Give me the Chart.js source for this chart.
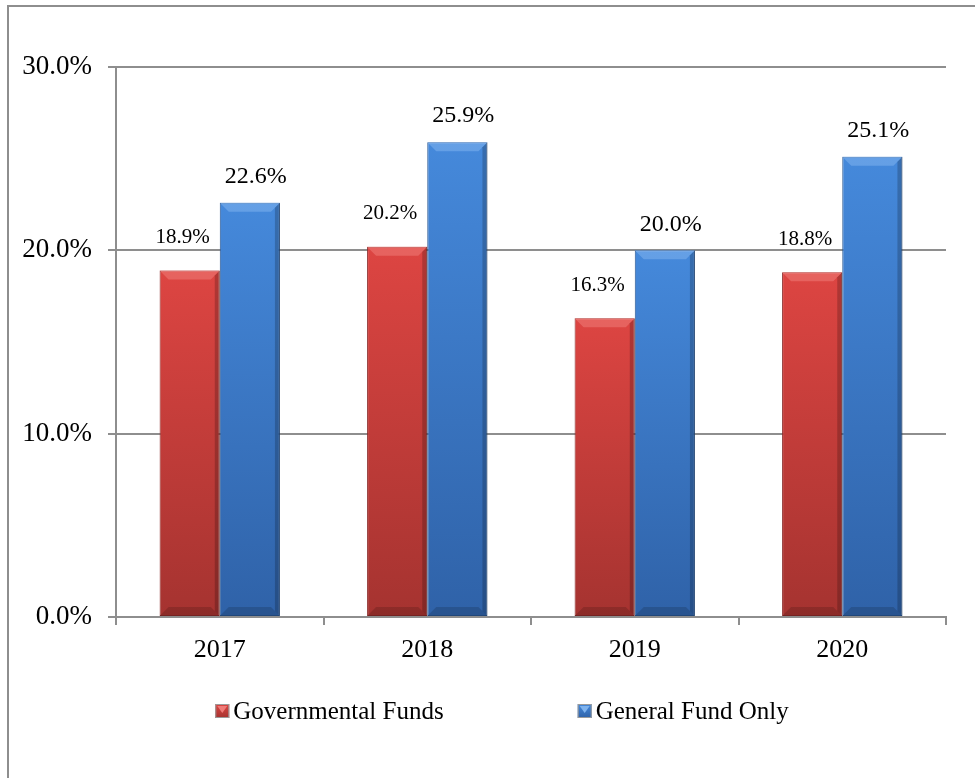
<!DOCTYPE html>
<html>
<head>
<meta charset="utf-8">
<script src="https://cdn.jsdelivr.net/npm/chart.js@4.4.1/dist/chart.umd.min.js"></script>
<style>
  html, body { margin: 0; padding: 0; background: #fff; }
  #wrap { position: relative; width: 975px; height: 778px; overflow: hidden; }
  #frame {
    position: absolute; left: 7px; top: 5px; width: 1000px; height: 800px;
    border-top: 2px solid #8e8e8e; border-left: 2px solid #8e8e8e;
  }
  canvas { position: absolute; left: 0; top: 0; }
</style>
</head>
<body>
<div id="wrap">
  <div id="frame"></div>
  <canvas id="fundChart" width="975" height="778"></canvas>
</div>
<script>
const years = ["2017", "2018", "2019", "2020"];
const governmentalFunds = [18.9, 20.2, 16.3, 18.8];
const generalFundOnly = [22.6, 25.9, 20.0, 25.1];
const seriesNames = ["Governmental Funds", "General Fund Only"];

const SERIF = "'Liberation Serif', 'Times New Roman', serif";
const GRID = "#8e8e8e";

// colours per series: top of bar, bottom of bar, border, bevel light
const palette = [
  { top: "#dd4542", bottom: "#a53330", border: "#8a2a28", light: "#ef7b78" },
  { top: "#4589db", bottom: "#2f62a8", border: "#27548f", light: "#7fb3ee" },
];

function barGradient(context) {
  const chart = context.chart;
  const pal = palette[context.datasetIndex];
  if (!chart.chartArea || context.parsed == null) return pal.top;
  const yTop = chart.scales.y.getPixelForValue(context.parsed.y);
  const yBot = chart.scales.y.getPixelForValue(0);
  if (!isFinite(yTop) || yBot - yTop < 1) return pal.top;
  const g = chart.ctx.createLinearGradient(0, yTop, 0, yBot);
  g.addColorStop(0, pal.top);
  g.addColorStop(1, pal.bottom);
  return g;
}

// soft bevel on the bars
const bevelPlugin = {
  id: "bevel",
  afterDatasetsDraw(chart) {
    const c = chart.ctx;
    chart.data.datasets.forEach(function (ds, di) {
      const pal = palette[di];
      chart.getDatasetMeta(di).data.forEach(function (bar) {
        const p = bar.getProps(["x", "y", "base", "width"], true);
        const l = p.x - p.width / 2, r = p.x + p.width / 2;
        const t = p.y, b = p.base, d = 9;
        c.save();
        // top facet
        c.globalAlpha = 0.55;
        c.fillStyle = pal.light;
        c.beginPath();
        c.moveTo(l, t); c.lineTo(r, t); c.lineTo(r - d, t + d); c.lineTo(l + d, t + d);
        c.closePath(); c.fill();
        // right facet
        c.globalAlpha = 0.2;
        c.fillStyle = "#000";
        c.beginPath();
        c.moveTo(r, t); c.lineTo(r, b); c.lineTo(r - 5, b - 5); c.lineTo(r - 5, t + 5);
        c.closePath(); c.fill();
        // bottom facet
        c.globalAlpha = 0.15;
        c.beginPath();
        c.moveTo(l, b); c.lineTo(r, b); c.lineTo(r - 9, b - 9); c.lineTo(l + 9, b - 9);
        c.closePath(); c.fill();
        c.restore();
      });
    });
  },
};

// value labels above the bars
const labelPlugin = {
  id: "valueLabels",
  afterDatasetsDraw(chart) {
    const c = chart.ctx;
    c.save();
    c.fillStyle = "#000";
    c.textAlign = "center";
    c.textBaseline = "middle";
    chart.data.datasets.forEach(function (ds, di) {
      const size = di === 0 ? 21 : 24;
      const lift = di === 0 ? 33 : 26;
      const shift = di === 0 ? -7 : 6;
      c.font = size + "px " + SERIF;
      chart.getDatasetMeta(di).data.forEach(function (bar, i) {
        c.fillText(ds.data[i].toFixed(1) + "%", bar.x + shift, bar.y - lift);
      });
    });
    c.restore();
  },
};

// legend under the axis
const legendPlugin = {
  id: "customLegend",
  afterDraw(chart) {
    const c = chart.ctx;
    const area = chart.chartArea;
    const font = "25px " + SERIF;
    const box = 14, gap = 4, spacing = 134;
    c.save();
    c.font = font;
    const widths = seriesNames.map(function (n) { return c.measureText(n).width; });
    let total = 0;
    widths.forEach(function (w) { total += box + gap + w; });
    total += spacing * (seriesNames.length - 1);
    let x = area.left + 386 - total / 2;
    const y = area.bottom + 94;
    seriesNames.forEach(function (name, i) {
      const pal = palette[i];
      const g = c.createLinearGradient(0, y - box / 2, 0, y + box / 2);
      g.addColorStop(0, pal.top);
      g.addColorStop(1, pal.bottom);
      c.fillStyle = g;
      c.fillRect(x, y - box / 2, box, box);
      c.fillStyle = pal.light;
      c.beginPath();
      c.moveTo(x + 2, y - box / 2 + 2); c.lineTo(x + box - 2, y - box / 2 + 2); c.lineTo(x + box / 2, y + 2);
      c.closePath(); c.fill();
      c.strokeStyle = "#9a9a9a";
      c.lineWidth = 1;
      c.strokeRect(x + 0.5, y - box / 2 + 0.5, box - 1, box - 1);
      c.fillStyle = "#000";
      c.textBaseline = "middle";
      c.textAlign = "left";
      c.fillText(name, x + box + gap, y + 1);
      x += box + gap + widths[i] + spacing;
    });
    c.restore();
  },
};

new Chart(document.getElementById("fundChart").getContext("2d"), {
  type: "bar",
  data: {
    labels: years,
    datasets: [
      {
        label: seriesNames[0],
        data: governmentalFunds,
        backgroundColor: barGradient,
        borderColor: palette[0].border,
        borderWidth: 1,
        borderSkipped: false,
      },
      {
        label: seriesNames[1],
        data: generalFundOnly,
        backgroundColor: barGradient,
        borderColor: palette[1].border,
        borderWidth: 1,
        borderSkipped: false,
      },
    ],
  },
  options: {
    responsive: false,
    animation: false,
    devicePixelRatio: 1,
    layout: { padding: { left: 0, right: 29, top: 67, bottom: 0 } },
    datasets: { bar: { categoryPercentage: 0.58, barPercentage: 1.0 } },
    plugins: {
      legend: { display: false },
      tooltip: { enabled: false },
    },
    scales: {
      x: {
        afterFit: function (scale) { scale.height = 161; },
        grid: {
          offset: true,
          drawOnChartArea: false,
          drawTicks: true,
          tickLength: 8,
          color: GRID,
          lineWidth: 2,
        },
        border: { color: GRID, width: 2 },
        ticks: {
          color: "#000",
          font: { family: SERIF, size: 26 },
          padding: 10,
        },
      },
      y: {
        min: 0,
        max: 30,
        afterFit: function (scale) { scale.width = 116; },
        grid: {
          drawTicks: true,
          tickLength: 8,
          color: GRID,
          lineWidth: 2,
        },
        border: { color: GRID, width: 2 },
        ticks: {
          stepSize: 10,
          color: "#000",
          font: { family: SERIF, size: 27 },
          padding: 16,
          callback: function (v) { return v.toFixed(1) + "%"; },
        },
      },
    },
  },
  plugins: [bevelPlugin, labelPlugin, legendPlugin],
});
</script>
</body>
</html>
